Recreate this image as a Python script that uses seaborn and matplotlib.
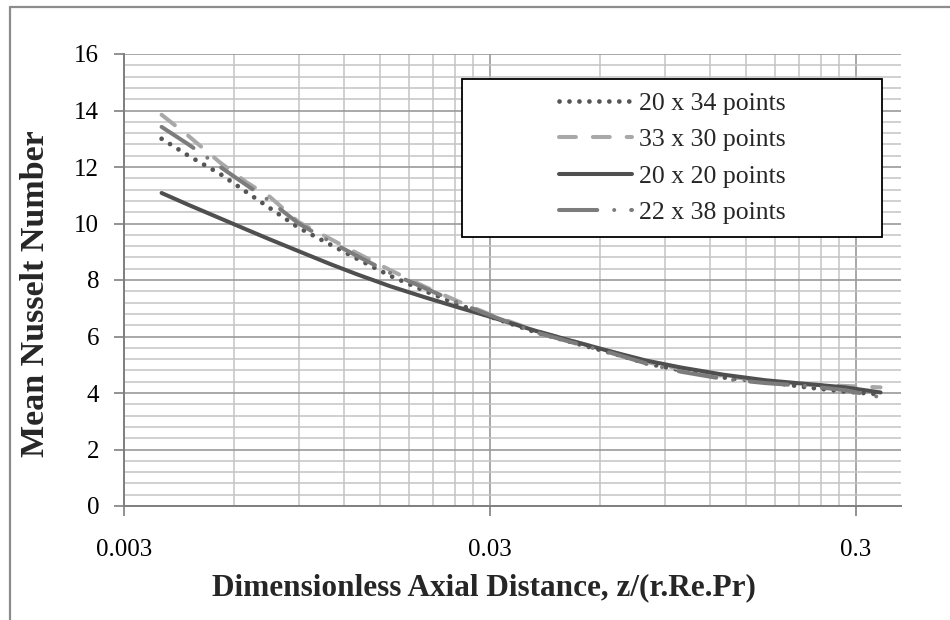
import matplotlib
matplotlib.use("Agg")
import matplotlib.pyplot as plt
import matplotlib.ticker as mticker
from matplotlib.lines import Line2D
from matplotlib.patches import Rectangle
import pandas as pd
import seaborn as sns

# Axial positions z/(r.Re.Pr) shared by all grid resolutions
z = [0.0038, 0.0045, 0.0055, 0.0065, 0.0075, 0.009, 0.011, 0.013, 0.016, 0.02,
     0.025, 0.03, 0.04, 0.05, 0.065, 0.08, 0.1, 0.13, 0.17, 0.22, 0.28, 0.35]

# Mean Nusselt number for each mesh
nu_20x34 = [13.0, 12.4, 11.75, 11.1, 10.55, 9.85, 9.25, 8.75, 8.15, 7.6,
            7.1, 6.7, 6.15, 5.8, 5.4, 5.05, 4.8, 4.55, 4.4, 4.2, 4.05, 3.95]
nu_33x30 = [13.85, 13.1, 12.15, 11.45, 10.95, 10.05, 9.45, 8.95, 8.35, 7.75,
            7.2, 6.78, 6.2, 5.85, 5.45, 5.1, 4.85, 4.6, 4.42, 4.3, 4.25, 4.2]
nu_20x20 = [11.08, 10.66, 10.18, 9.78, 9.44, 9.02, 8.56, 8.2, 7.78, 7.38,
            7.0, 6.7, 6.2, 5.85, 5.45, 5.15, 4.9, 4.65, 4.45, 4.32, 4.2, 4.02]
nu_22x38 = [13.42, 12.8, 12.0, 11.35, 10.8, 10.0, 9.35, 8.85, 8.25, 7.7,
            7.15, 6.75, 6.15, 5.8, 5.4, 5.05, 4.75, 4.5, 4.35, 4.25, 4.1, 3.85]

series_labels = ["20 x 34 points", "33 x 30 points", "20 x 20 points", "22 x 38 points"]
x_tick_values = [0.003, 0.03, 0.3]
x_tick_labels = ["0.003", "0.03", "0.3"]
y_tick_values = [0, 2, 4, 6, 8, 10, 12, 14, 16]

sns.set_theme(style="white")
plt.rcParams["font.family"] = ["Liberation Serif", "DejaVu Serif"]

W, H = 950, 620
fig = plt.figure(figsize=(W / 100, H / 100), dpi=100)
ax = fig.add_axes([124 / W, 1 - 506 / H, (901 - 124) / W, (506 - 54) / H])

styles = [
    dict(color="#555555", lw=3.4, linestyle=(0, (0.01, 2.1))),
    dict(color="#a8a8a8", lw=2.9, linestyle=(0, (4.2, 4.2))),
    dict(color="#4f4f4f", lw=2.9, linestyle="-"),
    dict(color="#7c7c7c", lw=2.9, linestyle=(0, (9.5, 4.2, 0.01, 4.2))),
]
values = [nu_20x34, nu_33x30, nu_20x20, nu_22x38]

handles = []
for lab, vals, st in zip(series_labels, values, styles):
    df = pd.DataFrame({"z": z, "Nu": vals})
    sns.lineplot(data=df, x="z", y="Nu", ax=ax, zorder=3, legend=False, **st)
    line = ax.get_lines()[-1]
    line.set_dash_capstyle("round")
    line.set_solid_capstyle("round")
    line.set_solid_joinstyle("round")
    handles.append(line)

ax.set_xscale("log")
ax.set_xlim(0.003, 0.398)
ax.set_ylim(0, 16)

# Gridlines: decades and k*0.003 steps on x, 2 / 0.4 on y
ax.xaxis.set_major_locator(mticker.FixedLocator(x_tick_values))
ax.xaxis.set_major_formatter(mticker.FixedFormatter(x_tick_labels))
minor_x = [d * k for d in (0.003, 0.03, 0.3) for k in range(2, 10) if d * k < 0.398]
ax.xaxis.set_minor_locator(mticker.FixedLocator(minor_x))
ax.xaxis.set_minor_formatter(mticker.NullFormatter())
ax.yaxis.set_major_locator(mticker.FixedLocator(y_tick_values))
ax.yaxis.set_minor_locator(mticker.MultipleLocator(0.4))

ax.grid(which="major", axis="both", color="#999999", lw=1.2, zorder=0)
ax.grid(which="minor", axis="both", color="#c4c4c4", lw=1.1, zorder=0)
ax.set_axisbelow(True)

for side in ("top", "right"):
    ax.spines[side].set_visible(False)
for side in ("left", "bottom"):
    ax.spines[side].set_color("#7f7f7f")
    ax.spines[side].set_linewidth(1.4)

ax.tick_params(axis="x", which="major", direction="out", length=7, width=1.2,
               color="#7f7f7f", pad=17, labelsize=18, labelcolor="black", bottom=True)
ax.tick_params(axis="y", which="major", direction="out", length=7, width=1.2,
               color="#7f7f7f", pad=11, labelsize=18, labelcolor="black", left=True)
ax.tick_params(which="minor", length=0)

ax.set_xlabel("")
ax.set_ylabel("")
fig.text(484 / W, 1 - 588 / H, "Dimensionless Axial Distance, z/(r.Re.Pr)",
         fontsize=22.5, fontweight="bold", ha="center", va="center")
fig.text(36 / W, 1 - 294 / H, "Mean Nusselt Number", fontsize=24.5,
         fontweight="bold", ha="center", va="center", rotation=90)

# Legend box
bx0, by0, bx1, by1 = 462, 79, 882, 237
box = Rectangle((bx0 / W, 1 - by1 / H), (bx1 - bx0) / W, (by1 - by0) / H,
                transform=fig.transFigure, facecolor="white", edgecolor="black",
                lw=1.3, zorder=5)
fig.add_artist(box)
leg = fig.legend(handles, series_labels, loc="center",
                 bbox_to_anchor=((bx0 + bx1) / 2 / W, 1 - (by0 + by1) / 2 / H),
                 frameon=False, fontsize=18.5, handlelength=2.85, handletextpad=0.25,
                 labelspacing=0.52)
leg.set_zorder(6)

# Chart area outline
fig.add_artist(Line2D([10 / W, 10 / W], [0, 1 - 7 / H], transform=fig.transFigure,
                      color="#8c8c8c", lw=1.6))
fig.add_artist(Line2D([10 / W, 1], [1 - 7 / H, 1 - 7 / H], transform=fig.transFigure,
                      color="#8c8c8c", lw=1.6))

fig.savefig("out.png", dpi=100, facecolor="white")
